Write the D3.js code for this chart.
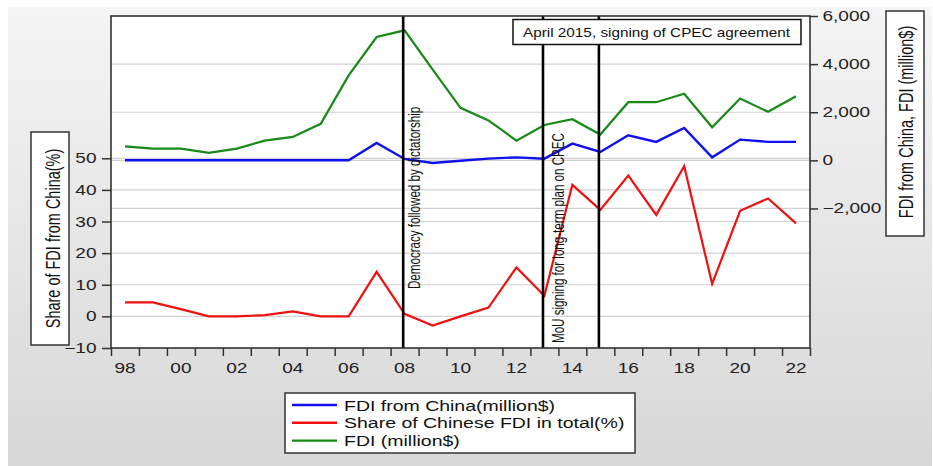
<!DOCTYPE html>
<html>
<head>
<meta charset="utf-8">
<script src="https://cdn.jsdelivr.net/npm/d3@7"></script>
<style>
    body { margin: 0; background: #ffffff; }
    #chart { width: 933px; height: 466px; }
    text { font-family: "Liberation Sans", Arial, sans-serif; }
</style>
</head>
<body>
<div id="chart"></div>
<script>
// years of the annual series
let years = d3.range(1998, 2023);

// FDI from China (million $), right axis
let fdiChina = [5, 5, 5, 5, 5, 5, 5, 5, 5, 725, 58, -108, -15, 70, 125, 70, 696, 350, 1042, 767, 1350, 125, 862, 767, 767];

// Share of Chinese FDI in total (%), left axis
let shareChina = [4.4, 4.4, 2.3, 0, 0, 0.4, 1.6, 0, 0, 14.1, 0.8, -2.9, 0, 2.8, 15.5, 6.5, 41.6, 33.7, 44.5, 32.1, 47.5, 10.3, 33.4, 37.3, 29.4];

// total FDI (million $), right axis
let fdiTotal = [583, 487, 487, 308, 487, 820, 975, 1517, 3529, 5125, 5404, 3779, 2183, 1660, 820, 1470, 1710, 1071, 2417, 2417, 2767, 1375, 2571, 2017, 2667];

let leftTicks = [-10, 0, 10, 20, 30, 40, 50];
let rightTicks = [-2000, 0, 2000, 4000, 6000];
let xLabels = ["98", "00", "02", "04", "06", "08", "10", "12", "14", "16", "18", "20", "22"];

let events = [
    {year: 2008, label: "Democracy followed by dictatorship"},
    {year: 2013, label: "MoU signing for long-term plan on CPEC"},
    {year: 2015, label: ""}
];
let boxNote = "April 2015, signing of CPEC agreement";

let seriesNames = ["FDI from China(million$)", "Share of Chinese FDI in total(%)", "FDI (million$)"];
let seriesColors = ["#1010f0", "#f01010", "#178a17"];

// the picture is a bit wider than its source, so type is stretched sideways
let stretch = 1.36;

class FdiViz {
    constructor (parentElement) {
        this.parentElement = parentElement;
    }

    initViz() {
        let vis = this;

        vis.margin = {top: 16, right: 123, bottom: 118, left: 111};
        vis.width = 933 - vis.margin.left - vis.margin.right;
        vis.height = 466 - vis.margin.top - vis.margin.bottom;

        vis.root = d3.select("#" + vis.parentElement).append("svg")
            .attr("width", 933)
            .attr("height", 466);

        // grey gradient panel
        let grad = vis.root.append("defs").append("linearGradient")
            .attr("id", "bg").attr("x1", 0).attr("y1", 0).attr("x2", 0).attr("y2", 1);
        grad.append("stop").attr("offset", "0%").attr("stop-color", "#f5f5f5");
        grad.append("stop").attr("offset", "100%").attr("stop-color", "#d7d7d7");

        vis.root.append("rect")
            .attr("x", 8).attr("y", 7)
            .attr("width", 924).attr("height", 459)
            .attr("fill", "url(#bg)");

        vis.svg = vis.root.append("g")
            .attr("transform", "translate(" + vis.margin.left + "," + vis.margin.top + ")");

        vis.x = d3.scaleLinear()
            .domain([1998, 2023])
            .range([0, vis.width]);

        vis.yL = d3.scaleLinear()
            .domain([-10, 95])
            .range([vis.height, 0]);

        vis.yR = d3.scaleLinear()
            .domain([-7800, 6000])
            .range([vis.height, 0]);

        vis.updateViz();
    }

    updateViz() {
        let vis = this;

        vis.svg.append("rect")
            .attr("width", vis.width)
            .attr("height", vis.height)
            .attr("fill", "#ffffff");

        // gridlines from both axes
        vis.svg.selectAll(".gridL")
            .data(leftTicks.filter(d => d > -10))
            .enter().append("line")
            .attr("x1", 0).attr("x2", vis.width)
            .attr("y1", d => vis.yL(d)).attr("y2", d => vis.yL(d))
            .attr("stroke", "#d2d2d2").attr("stroke-width", 1.2);

        vis.svg.selectAll(".gridR")
            .data(rightTicks.filter(d => d < 6000))
            .enter().append("line")
            .attr("x1", 0).attr("x2", vis.width)
            .attr("y1", d => vis.yR(d)).attr("y2", d => vis.yR(d))
            .attr("stroke", "#d2d2d2").attr("stroke-width", 1.2);

        // axes
        let leftAxis = d3.axisLeft(vis.yL).tickValues(leftTicks).tickSize(9);
        let rightAxis = d3.axisRight(vis.yR).tickValues(rightTicks).tickSize(8)
            .tickFormat(d3.format(","));
        let bottomAxis = d3.axisBottom(vis.x).tickValues(d3.range(1998, 2024)).tickSize(8)
            .tickFormat("");

        let gl = vis.svg.append("g").attr("class", "axis").call(leftAxis);
        let gr = vis.svg.append("g").attr("class", "axis")
            .attr("transform", "translate(" + vis.width + ",0)").call(rightAxis);
        let gb = vis.svg.append("g").attr("class", "axis")
            .attr("transform", "translate(0," + vis.height + ")").call(bottomAxis);

        [gl, gr, gb].forEach(function (g) {
            g.select(".domain").remove();
            g.selectAll("line").attr("stroke", "#333").attr("stroke-width", 1.5);
            g.selectAll("text").attr("fill", "#222").style("font-size", "14px");
        });

        gl.selectAll("text")
            .attr("x", 0)
            .attr("transform", "translate(-14.5,0) scale(" + stretch + ",1)");
        gr.selectAll("text")
            .attr("x", 0)
            .attr("transform", "translate(12.5,0) scale(" + stretch + ",1)");

        gb.selectAll(".xlab")
            .data(xLabels)
            .enter().append("text")
            .attr("class", "xlab")
            .attr("transform", (d, i) => "translate(" + vis.x(1998 + i * 2 + 0.5) + ",24.5) scale(" + stretch + ",1)")
            .attr("text-anchor", "middle")
            .attr("fill", "#222")
            .style("font-size", "14px")
            .text(d => d);

        // series lines
        let lineL = d3.line()
            .x((d, i) => vis.x(years[i] + 0.5))
            .y(d => vis.yL(d));
        let lineR = d3.line()
            .x((d, i) => vis.x(years[i] + 0.5))
            .y(d => vis.yR(d));

        vis.svg.append("path").datum(fdiTotal)
            .attr("fill", "none").attr("stroke", seriesColors[2]).attr("stroke-width", 2.2)
            .attr("d", lineR);
        vis.svg.append("path").datum(fdiChina)
            .attr("fill", "none").attr("stroke", seriesColors[0]).attr("stroke-width", 2.4)
            .attr("d", lineR);
        vis.svg.append("path").datum(shareChina)
            .attr("fill", "none").attr("stroke", seriesColors[1]).attr("stroke-width", 2.2)
            .attr("d", lineL);

        // event lines
        vis.svg.selectAll(".event")
            .data(events)
            .enter().append("line")
            .attr("x1", d => vis.x(d.year + 0.45)).attr("x2", d => vis.x(d.year + 0.45))
            .attr("y1", 0).attr("y2", vis.height)
            .attr("stroke", "#000").attr("stroke-width", 2.6);

        let evText = [{dx: 17, bottom: 273}, {dx: 21, bottom: 327}];
        vis.svg.selectAll(".evlab")
            .data(events.slice(0, 2))
            .enter().append("text")
            .attr("transform", (d, i) => "translate(" + (vis.x(d.year + 0.45) + evText[i].dx) + "," + evText[i].bottom + ") rotate(-90) scale(1," + stretch + ")")
            .attr("fill", "#111")
            .style("font-size", "11.6px")
            .text(d => d.label);

        // note box
        vis.svg.append("rect")
            .attr("x", 402).attr("y", 3.5)
            .attr("width", 288).attr("height", 25)
            .attr("fill", "#fff").attr("stroke", "#111").attr("stroke-width", 1.5);
        vis.svg.append("text")
            .attr("x", 412).attr("y", 20.5)
            .attr("fill", "#111")
            .style("font-size", "13.5px")
            .attr("textLength", 267)
            .attr("lengthAdjust", "spacingAndGlyphs")
            .text(boxNote);

        // frame
        vis.svg.append("rect")
            .attr("width", vis.width)
            .attr("height", vis.height)
            .attr("fill", "none")
            .attr("stroke", "#333").attr("stroke-width", 1.6);

        // axis titles in boxes
        vis.root.append("rect")
            .attr("x", 31).attr("y", 132).attr("width", 38).attr("height", 213)
            .attr("fill", "#fff").attr("stroke", "#333").attr("stroke-width", 1.5);
        vis.root.append("text")
            .attr("transform", "translate(60,238.5) rotate(-90) scale(1," + stretch + ")")
            .attr("text-anchor", "middle")
            .attr("fill", "#111")
            .style("font-size", "14.5px")
            .text("Share of FDI from China(%)");

        vis.root.append("rect")
            .attr("x", 886).attr("y", 11).attr("width", 38).attr("height", 225)
            .attr("fill", "#fff").attr("stroke", "#333").attr("stroke-width", 1.5);
        vis.root.append("text")
            .attr("transform", "translate(913,122) rotate(-90) scale(1," + stretch + ")")
            .attr("text-anchor", "middle")
            .attr("fill", "#111")
            .style("font-size", "14.5px")
            .text("FDI from China, FDI (million$)");

        // legend
        let legend = vis.root.append("g").attr("transform", "translate(285,393)");
        legend.append("rect")
            .attr("width", 350).attr("height", 60)
            .attr("fill", "#fff").attr("stroke", "#333").attr("stroke-width", 1.5);
        let items = legend.selectAll(".item")
            .data(seriesNames)
            .enter().append("g")
            .attr("transform", (d, i) => "translate(0," + (12 + i * 17.8) + ")");
        items.append("line")
            .attr("x1", 7).attr("x2", 52)
            .attr("stroke", (d, i) => seriesColors[i]).attr("stroke-width", 2.4);
        items.append("text")
            .attr("transform", "translate(59,5.5) scale(1.3,1)")
            .attr("fill", "#111")
            .style("font-size", "15px")
            .text(d => d);
    }
}

let viz = new FdiViz("chart");
viz.initViz();
</script>
</body>
</html>
